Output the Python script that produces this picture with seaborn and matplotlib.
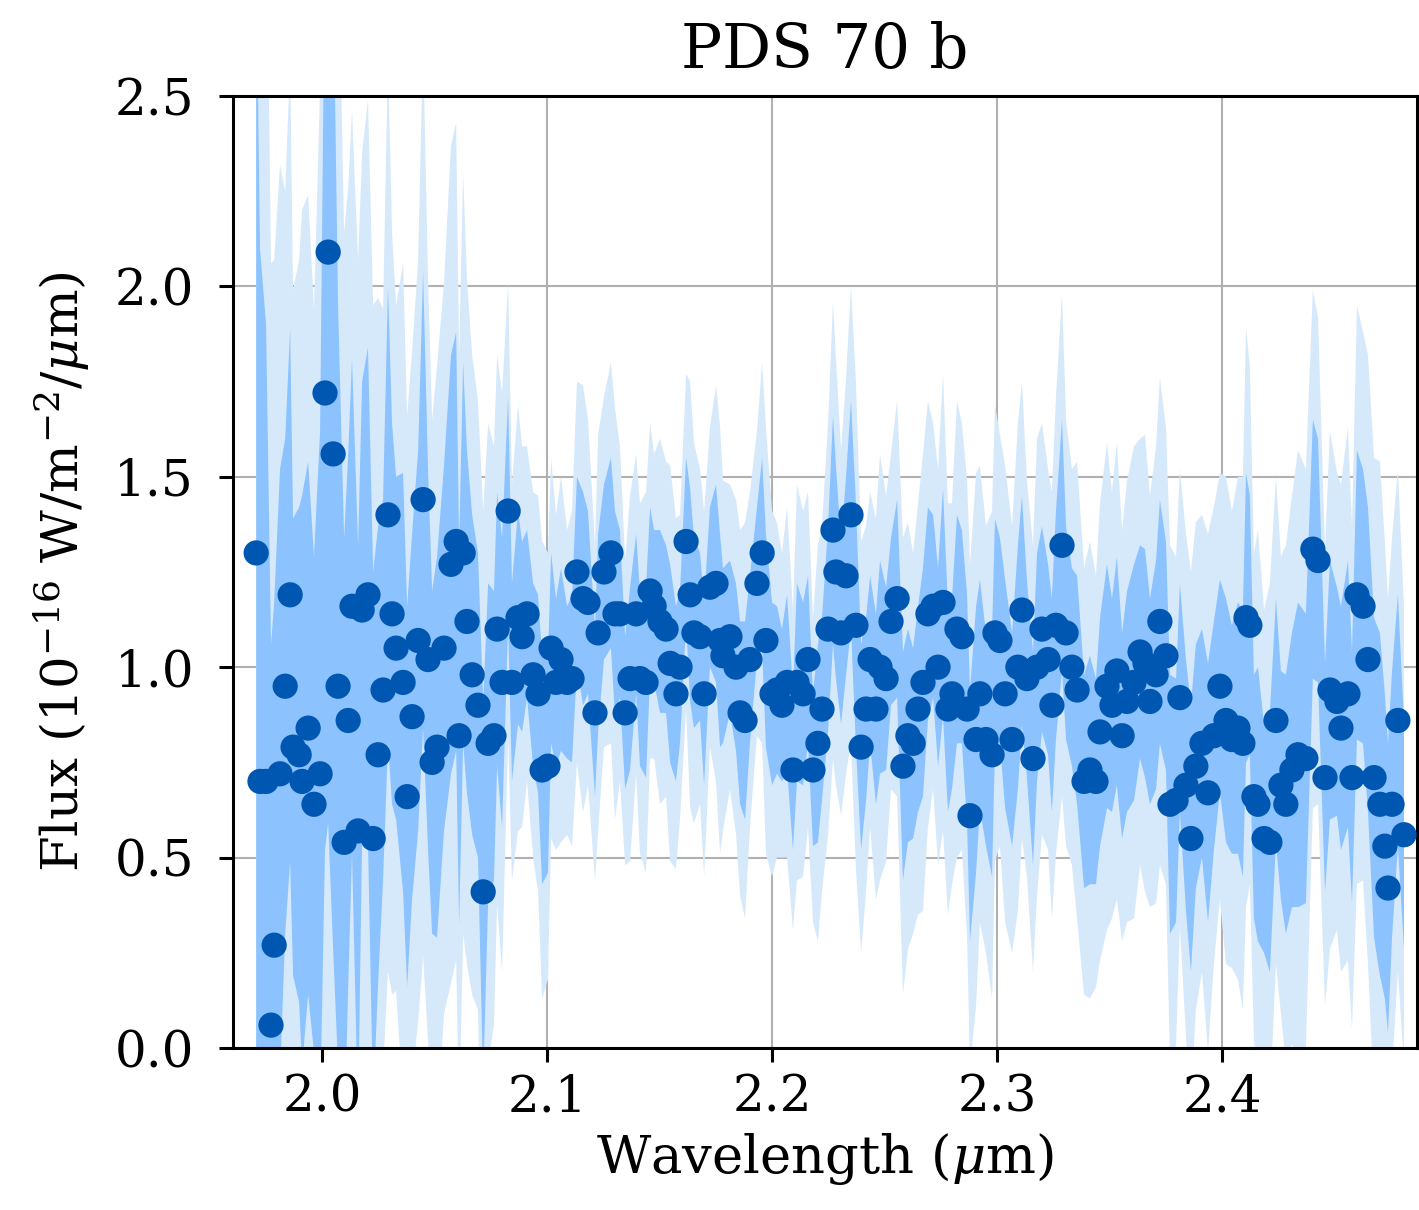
import matplotlib
matplotlib.use("Agg")
import matplotlib.pyplot as plt
import seaborn as sns
import numpy as np

wavelength = [
    1.9707, 1.9724, 1.9751, 1.9773, 1.9787, 1.9813, 1.9836, 1.9858, 1.9871, 1.9898,
    1.9911, 1.9938, 1.9964, 1.9991, 2.0013, 2.0027, 2.0049, 2.0071, 2.0098, 2.0116,
    2.0133, 2.0160, 2.0178, 2.0204, 2.0227, 2.0249, 2.0271, 2.0293, 2.0311, 2.0329,
    2.0360, 2.0378, 2.0400, 2.0427, 2.0449, 2.0471, 2.0489, 2.0511, 2.0542, 2.0573,
    2.0596, 2.0609, 2.0627, 2.0644, 2.0667, 2.0693, 2.0716, 2.0738, 2.0764, 2.0778,
    2.0800, 2.0827, 2.0844, 2.0871, 2.0889, 2.0911, 2.0938, 2.0960, 2.0978, 2.1004,
    2.1018, 2.1040, 2.1062, 2.1089, 2.1111, 2.1133, 2.1160, 2.1182, 2.1213, 2.1227,
    2.1253, 2.1284, 2.1302, 2.1324, 2.1347, 2.1369, 2.1396, 2.1413, 2.1440, 2.1458,
    2.1476, 2.1502, 2.1529, 2.1547, 2.1573, 2.1591, 2.1618, 2.1636, 2.1653, 2.1680,
    2.1698, 2.1724, 2.1751, 2.1769, 2.1782, 2.1813, 2.1840, 2.1858, 2.1880, 2.1902,
    2.1933, 2.1956, 2.1973, 2.2000, 2.2022, 2.2044, 2.2067, 2.2093, 2.2111, 2.2138,
    2.2160, 2.2182, 2.2204, 2.2222, 2.2249, 2.2271, 2.2284, 2.2307, 2.2329, 2.2351,
    2.2373, 2.2396, 2.2418, 2.2436, 2.2462, 2.2480, 2.2507, 2.2529, 2.2556, 2.2582,
    2.2604, 2.2627, 2.2649, 2.2671, 2.2693, 2.2716, 2.2738, 2.2760, 2.2782, 2.2800,
    2.2822, 2.2844, 2.2867, 2.2880, 2.2907, 2.2924, 2.2951, 2.2978, 2.2991, 2.3013,
    2.3036, 2.3067, 2.3093, 2.3111, 2.3133, 2.3160, 2.3178, 2.3200, 2.3227, 2.3244,
    2.3262, 2.3289, 2.3307, 2.3333, 2.3356, 2.3387, 2.3413, 2.3440, 2.3458, 2.3489,
    2.3511, 2.3533, 2.3556, 2.3578, 2.3609, 2.3636, 2.3658, 2.3680, 2.3707, 2.3724,
    2.3751, 2.3769, 2.3796, 2.3813, 2.3840, 2.3862, 2.3884, 2.3911, 2.3938, 2.3964,
    2.3991, 2.4018, 2.4044, 2.4071, 2.4093, 2.4107, 2.4124, 2.4142, 2.4160, 2.4187,
    2.4213, 2.4240, 2.4262, 2.4284, 2.4311, 2.4338, 2.4373, 2.4404, 2.4427, 2.4458,
    2.4480, 2.4511, 2.4529, 2.4560, 2.4578, 2.4600, 2.4627, 2.4649, 2.4676, 2.4702,
    2.4724, 2.4738, 2.4756, 2.4782, 2.4809,
]

flux = [
    1.30, 0.70, 0.70, 0.06, 0.27, 0.72, 0.95, 1.19, 0.79, 0.77,
    0.70, 0.84, 0.64, 0.72, 1.72, 2.09, 1.56, 0.95, 0.54, 0.86,
    1.16, 0.57, 1.15, 1.19, 0.55, 0.77, 0.94, 1.40, 1.14, 1.05,
    0.96, 0.66, 0.87, 1.07, 1.44, 1.02, 0.75, 0.79, 1.05, 1.27,
    1.33, 0.82, 1.30, 1.12, 0.98, 0.90, 0.41, 0.80, 0.82, 1.10,
    0.96, 1.41, 0.96, 1.13, 1.08, 1.14, 0.98, 0.93, 0.73, 0.74,
    1.05, 0.96, 1.02, 0.96, 0.97, 1.25, 1.18, 1.17, 0.88, 1.09,
    1.25, 1.30, 1.14, 1.14, 0.88, 0.97, 1.14, 0.97, 0.96, 1.20,
    1.16, 1.12, 1.10, 1.01, 0.93, 1.00, 1.33, 1.19, 1.09, 1.08,
    0.93, 1.21, 1.22, 1.07, 1.03, 1.08, 1.00, 0.88, 0.86, 1.02,
    1.22, 1.30, 1.07, 0.93, 0.94, 0.90, 0.96, 0.73, 0.96, 0.93,
    1.02, 0.73, 0.80, 0.89, 1.10, 1.36, 1.25, 1.09, 1.24, 1.40,
    1.11, 0.79, 0.89, 1.02, 0.89, 1.00, 0.97, 1.12, 1.18, 0.74,
    0.82, 0.80, 0.89, 0.96, 1.14, 1.16, 1.00, 1.17, 0.89, 0.93,
    1.10, 1.08, 0.89, 0.61, 0.81, 0.93, 0.81, 0.77, 1.09, 1.07,
    0.93, 0.81, 1.00, 1.15, 0.97, 0.76, 1.00, 1.10, 1.02, 0.90,
    1.11, 1.32, 1.09, 1.00, 0.94, 0.70, 0.73, 0.70, 0.83, 0.95,
    0.90, 0.99, 0.82, 0.91, 0.96, 1.04, 1.01, 0.91, 0.98, 1.12,
    1.03, 0.64, 0.65, 0.92, 0.69, 0.55, 0.74, 0.80, 0.67, 0.82,
    0.95, 0.86, 0.81, 0.84, 0.80, 1.13, 1.11, 0.66, 0.64, 0.55,
    0.54, 0.86, 0.69, 0.64, 0.73, 0.77, 0.76, 1.31, 1.28, 0.71,
    0.94, 0.91, 0.84, 0.93, 0.71, 1.19, 1.16, 1.02, 0.71, 0.64,
    0.53, 0.42, 0.64, 0.86, 0.56,
]

flux_err = [
    1.60, 1.40, 1.20, 1.00, 0.90, 0.80, 0.65, 0.70, 0.60, 0.65,
    0.75, 0.70, 0.65, 0.90, 1.20, 1.50, 1.30, 1.00, 0.80, 0.70,
    0.65, 0.75, 0.60, 0.65, 0.70,
    0.60, 0.50, 0.60, 0.50, 0.45, 0.55, 0.50, 0.48, 0.50, 0.60,
    0.50, 0.45, 0.50, 0.48, 0.55, 0.55, 0.50, 0.50, 0.45, 0.42,
    0.40, 0.50, 0.42, 0.38, 0.36, 0.38,
    0.30, 0.26, 0.28, 0.25, 0.22, 0.24, 0.26, 0.30, 0.28, 0.25,
    0.22, 0.24, 0.20, 0.22, 0.25, 0.28, 0.24, 0.22, 0.26, 0.23,
    0.25, 0.27, 0.22, 0.20, 0.24, 0.21, 0.23, 0.25, 0.22, 0.20,
    0.24, 0.22, 0.26, 0.23, 0.20, 0.22, 0.28, 0.25, 0.22, 0.24,
    0.21, 0.26, 0.28, 0.23, 0.20, 0.22, 0.24, 0.26, 0.22, 0.20,
    0.25, 0.28, 0.24, 0.22, 0.20, 0.23, 0.21, 0.26, 0.24, 0.22,
    0.20, 0.26, 0.24, 0.27, 0.30, 0.28, 0.24, 0.26, 0.30, 0.32,
    0.27, 0.24, 0.22, 0.25, 0.28, 0.24, 0.22, 0.26, 0.30, 0.28,
    0.25, 0.27, 0.30, 0.28, 0.24, 0.26, 0.30, 0.27, 0.25, 0.30,
    0.28, 0.30, 0.33, 0.35, 0.30, 0.28, 0.32, 0.30, 0.27, 0.30,
    0.28, 0.32, 0.30, 0.26, 0.28, 0.30, 0.27, 0.25, 0.28, 0.30,
    0.33, 0.28, 0.26, 0.30,
    0.28, 0.30, 0.27, 0.30, 0.32, 0.28, 0.30, 0.27, 0.29, 0.31,
    0.28, 0.30, 0.27, 0.30, 0.32, 0.30, 0.34, 0.32, 0.30, 0.33,
    0.35, 0.32, 0.30, 0.34, 0.30, 0.28, 0.32, 0.30, 0.33, 0.35,
    0.38, 0.34, 0.32, 0.36, 0.30, 0.34, 0.32, 0.30, 0.34, 0.36,
    0.40, 0.38, 0.34, 0.32, 0.30, 0.34, 0.30, 0.32, 0.35, 0.33,
    0.38, 0.36, 0.40, 0.42, 0.45, 0.40, 0.38, 0.35, 0.33, 0.30,
]

title = "PDS 70 b"
x_label = r"Wavelength ($\mu$m)"
y_label = r"Flux ($10^{-16}$ W/m$^{-2}$/$\mu$m)"
x_ticks = [2.0, 2.1, 2.2, 2.3, 2.4]
y_ticks = [0.0, 0.5, 1.0, 1.5, 2.0, 2.5]

sns.set_theme(style="ticks")
plt.rcParams["font.family"] = ["DejaVu Serif"]
plt.rcParams["mathtext.fontset"] = "dejavuserif"
plt.rcParams["text.color"] = "black"
plt.rcParams["axes.labelcolor"] = "black"
plt.rcParams["xtick.color"] = "black"
plt.rcParams["ytick.color"] = "black"

wl = np.array(wavelength)
f = np.array(flux)
e = np.array(flux_err)

fig = plt.figure(figsize=(14.19, 12.10), dpi=100)
ax = fig.add_axes([0.1642, 0.1339, 0.8344, 0.7868])

ax.fill_between(wl, f - 2 * e, f + 2 * e, color="#d6e9fb", linewidth=0, zorder=1)
ax.fill_between(wl, f - e, f + e, color="#8cc3fe", linewidth=0, zorder=2)
sns.scatterplot(x=wl, y=f, ax=ax, color="#0057b2", s=330, edgecolor="none",
                linewidth=0, zorder=3, legend=False)

ax.set_xlim(1.9604, 2.4867)
ax.set_ylim(0, 2.5)
ax.set_xticks(x_ticks)
ax.set_yticks(y_ticks)
ax.set_xticklabels([f"{t:.1f}" for t in x_ticks])
ax.set_yticklabels([f"{t:.1f}" for t in y_ticks])
ax.grid(True, color="#b0b0b0", linewidth=1.5, zorder=0)
ax.set_axisbelow(True)

for s in ax.spines.values():
    s.set_linewidth(2.2)
    s.set_color("black")
ax.tick_params(axis="both", direction="out", length=10, width=2.2,
               labelsize=36, colors="black")
ax.tick_params(axis="x", pad=8)
ax.tick_params(axis="y", pad=18)

ax.set_title(title, fontsize=44, pad=20, color="black")
ax.set_xlabel(x_label, fontsize=38, labelpad=6, color="black")
ax.set_ylabel(y_label, fontsize=37, labelpad=16, color="black")

fig.savefig("out.png", dpi=100)
